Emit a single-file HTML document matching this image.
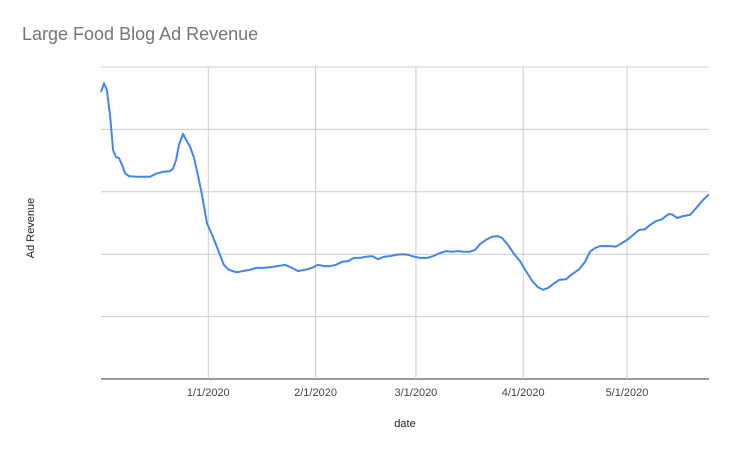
<!DOCTYPE html>
<html><head><meta charset="utf-8"><style>
html,body{margin:0;padding:0;background:#fff;}
svg{display:block;font-family:"Liberation Sans",Arial,sans-serif;}
</style></head><body>
<svg id="chart" width="732" height="452">
<rect width="732" height="452" fill="#fff"/>
<text x="22" y="40" font-size="18" fill="#757575">Large Food Blog Ad Revenue</text>
<text transform="translate(34,228) rotate(-90)" text-anchor="middle" font-size="11" fill="#222">Ad Revenue</text>
<text x="405" y="427" text-anchor="middle" font-size="11" fill="#222">date</text>
<g id="grid"></g><g id="xticks"></g><g id="series"></g>
</svg>
<script>
const dayOffsets=[0,0.9,1.7,2.6,3.5,4.3,5.2,6.1,6.9,8.1,10.4,12.1,14.2,15.9,17.9,19.9,20.8,21.7,22.5,23.7,24.6,25.7,26.9,28,29.2,30.6,32.1,33.8,35.5,36.7,37.9,39.3,41,43.1,44.8,46.8,48.8,50.9,53.2,55.2,56.9,59,61,62.7,64.5,66.2,67.9,69.7,71.4,73.1,74.9,76.6,78.3,80.1,81.8,83.5,85.3,87.3,88.7,90.5,92.2,94.2,96,98,99.7,101.4,103.2,104.9,106.6,108.1,109.5,111.3,113,114.7,115.9,117.6,119.4,121.1,122.8,124.6,126.3,127.7,129.2,130.6,132.4,134.4,136.1,138.2,139.9,141.3,142.8,144.2,146,147.4,148.8,150.6,152.3,153.8,155.5,157.2,158.7,160.4,162.1,163.9,165,166.5,168.2,170.2,172,174,175.7];
const values=[4.60,4.74,4.63,4.23,3.67,3.56,3.54,3.43,3.30,3.25,3.24,3.24,3.24,3.29,3.32,3.33,3.37,3.51,3.75,3.93,3.83,3.73,3.54,3.27,2.95,2.50,2.31,2.07,1.83,1.76,1.73,1.71,1.73,1.75,1.78,1.78,1.79,1.81,1.83,1.78,1.73,1.75,1.78,1.83,1.81,1.81,1.83,1.88,1.89,1.94,1.94,1.96,1.97,1.92,1.96,1.97,1.99,2.00,1.99,1.96,1.94,1.94,1.97,2.02,2.05,2.04,2.05,2.04,2.04,2.07,2.16,2.23,2.28,2.29,2.26,2.15,2.00,1.89,1.73,1.57,1.47,1.43,1.46,1.52,1.59,1.60,1.68,1.76,1.88,2.04,2.10,2.13,2.13,2.13,2.12,2.18,2.24,2.31,2.39,2.40,2.47,2.53,2.56,2.64,2.64,2.58,2.61,2.63,2.74,2.87,2.96];
const tickLabels=["1/1/2020","2/1/2020","3/1/2020","4/1/2020","5/1/2020"];
const tickDays=[31,62,91,122,152];
const yGridValues=[0,1,2,3,4,5];
const X0=101,X1=709,Y0=379,Y1=67,DMAX=175.7,VMAX=5;
const xs=d=>X0+(X1-X0)*d/DMAX;
const ys=v=>Y0-(Y0-Y1)*v/VMAX;
const NS="http://www.w3.org/2000/svg";
const grid=document.getElementById('grid'),xt=document.getElementById('xticks'),ser=document.getElementById('series');
yGridValues.forEach(v=>{const l=document.createElementNS(NS,'line');


l.setAttribute('x1',X0);l.setAttribute('x2',X1);l.setAttribute('y1',ys(v));l.setAttribute('y2',ys(v));
l.setAttribute('stroke',v===0?'#333':'#ccc');l.setAttribute('stroke-width','1');grid.appendChild(l);});
tickDays.forEach((d,i)=>{const l=document.createElementNS(NS,'line');


l.setAttribute('x1',xs(d));l.setAttribute('x2',xs(d));l.setAttribute('y1',Y1);l.setAttribute('y2',Y0);
l.setAttribute('stroke','#ccc');grid.appendChild(l);
const t=document.createElementNS(NS,'text');


t.setAttribute('x',xs(d));t.setAttribute('y',396);t.setAttribute('text-anchor','middle');
t.setAttribute('font-size','11');t.setAttribute('fill','#444');t.textContent=tickLabels[i];xt.appendChild(t);});
const p=document.createElementNS(NS,'path');


p.setAttribute('d',dayOffsets.map((d,i)=>(i?'L':'M')+xs(d).toFixed(1)+','+ys(values[i]).toFixed(1)).join(''));
p.setAttribute('fill','none');p.setAttribute('stroke','#4285f4');p.setAttribute('stroke-width','2');p.setAttribute('stroke-linejoin','round');
ser.appendChild(p);
</script>
</body></html>
